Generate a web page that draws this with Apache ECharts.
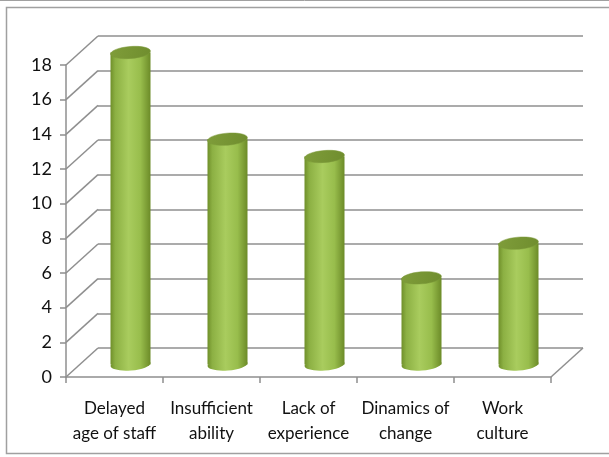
<!DOCTYPE html>
<html><head><meta charset="utf-8">
<script src="https://cdn.jsdelivr.net/npm/echarts@6/dist/echarts.min.js"></script>
<style>html,body{margin:0;padding:0;background:#fff}#c{width:609px;height:457px}</style>
</head><body><div id="c"></div>
<script>
var categories = ['Delayed\nage of staff', 'Insufficient\nability', 'Lack of\nexperience', 'Dinamics of\nchange', 'Work\nculture'];
var values = [18, 13, 12, 5, 7];
var yTicks = [0, 2, 4, 6, 8, 10, 12, 14, 16, 18];

var DX = 32, DY = -29; // depth offset
var GRID = '#8f8f8f';
var chart = echarts.init(document.getElementById('c'));

function cylinder(params, api) {
  var idx = api.value(0), v = api.value(1);
  var top = api.coord([idx, v]);
  var bot = api.coord([idx, 0]);
  var cx = top[0] + DX / 2, ty = top[1] + DY / 2 + 2, by = bot[1] + DY / 2 + 2;
  var rx = 20, ry = 6;
  var grad = new echarts.graphic.LinearGradient(0, 0, 1, 0, [
    {offset: 0, color: '#6f8f2a'},
    {offset: 0.12, color: '#8cb043'},
    {offset: 0.45, color: '#a9cc5e'},
    {offset: 0.75, color: '#98bd4c'},
    {offset: 1, color: '#6c8b28'}
  ]);
  return {
    type: 'group',
    children: [
      {type: 'ellipse', shape: {cx: cx, cy: by, rx: rx, ry: ry}, rotation: 0.08, originX: cx, originY: by, style: {fill: grad}},
      {type: 'rect', shape: {x: cx - rx, y: ty, width: rx * 2, height: by - ty}, style: {fill: grad}},
      {type: 'ellipse', shape: {cx: cx, cy: ty, rx: rx, ry: ry}, rotation: 0.08, originX: cx, originY: ty,
        style: {fill: new echarts.graphic.LinearGradient(0, 0, 1, 1, [{offset: 0, color: '#7f9d3a'}, {offset: 1, color: '#6f8d2e'}]), stroke: '#7a9838', lineWidth: 0.5}}
    ]
  };
}

function diag(params, api) {
  var v = api.value(0);
  var p = api.coord([0, v]);
  var x0 = params.coordSys.x;
  return {type: 'line', shape: {x1: x0, y1: p[1], x2: x0 + DX, y2: p[1] + DY}, style: {stroke: GRID, lineWidth: 1.5}};
}
function floorRight(params, api) {
  var p = api.coord([0, 0]);
  var x1 = params.coordSys.x + params.coordSys.width;
  return {type: 'line', shape: {x1: x1, y1: p[1], x2: x1 + DX, y2: p[1] + DY}, style: {stroke: GRID, lineWidth: 1.5}};
}

chart.setOption({
  animation: false,
  backgroundColor: '#fff',
  textStyle: {fontFamily: 'Lato'},
  graphic: [
    {type: 'line', shape: {x1: 0, y1: 0.5, x2: 609, y2: 0.5}, style: {stroke: '#a0a0a0', lineWidth: 1}},
    {type: 'rect', shape: {x: 6.5, y: 7.5, width: 620, height: 446}, style: {fill: null, stroke: '#a0a0a0', lineWidth: 1.5}}
  ],
  grid: [
    {left: 66, top: 65, right: 58, bottom: 80},
    {left: 98, top: 36, right: 26, bottom: 109}
  ],
  xAxis: [
    {type: 'category', gridIndex: 0, data: categories,
      axisLine: {lineStyle: {color: GRID, width: 1.5}},
      axisTick: {show: true, length: 6, lineStyle: {color: GRID, width: 1.5}},
      axisLabel: {color: '#111', fontSize: 17, lineHeight: 25, margin: 19, interval: 0}},
    {type: 'category', gridIndex: 1, data: categories, show: false}
  ],
  yAxis: [
    {type: 'value', gridIndex: 0, min: 0, max: 18, interval: 2,
      axisLine: {show: true, lineStyle: {color: GRID, width: 1.5}},
      axisTick: {show: true, length: 6, lineStyle: {color: GRID, width: 1.5}},
      axisLabel: {color: '#111', fontSize: 18, margin: 14},
      splitLine: {show: false}},
    {type: 'value', gridIndex: 1, min: 0, max: 18, interval: 2,
      axisLine: {show: false}, axisTick: {show: false}, axisLabel: {show: false},
      splitLine: {show: true, lineStyle: {color: GRID, width: 1.5}}}
  ],
  series: [
    {type: 'custom', xAxisIndex: 0, yAxisIndex: 0, renderItem: diag, data: yTicks.map(function (t) { return [t]; }), encode: {y: 0}, z: 1},
    {type: 'custom', xAxisIndex: 0, yAxisIndex: 0, renderItem: floorRight, data: [[0]], encode: {y: 0}, z: 1},
    {type: 'custom', xAxisIndex: 0, yAxisIndex: 0, renderItem: cylinder, data: values.map(function (v, i) { return [i, v]; }), encode: {x: 0, y: 1}, z: 5}
  ]
});
</script></body></html>
